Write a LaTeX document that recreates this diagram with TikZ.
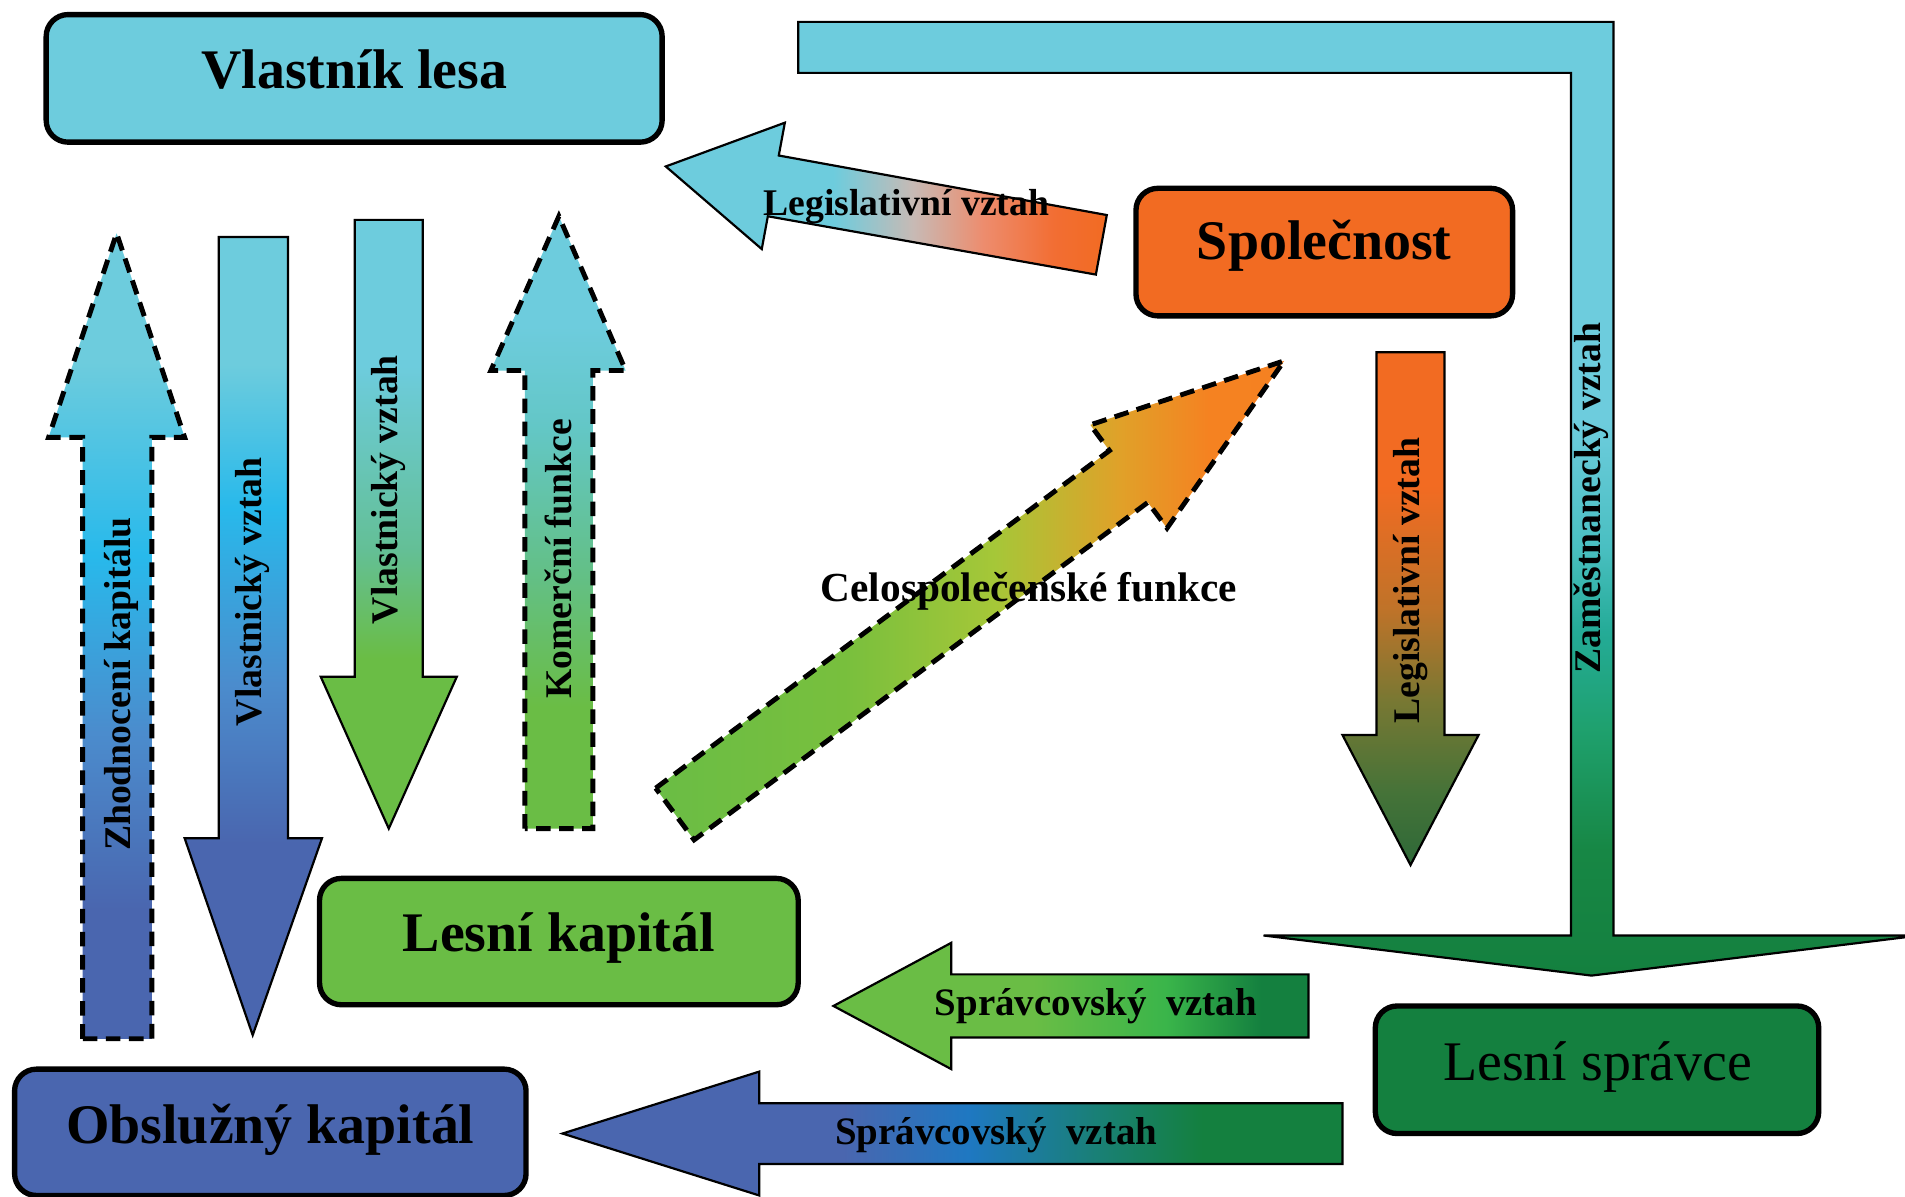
\documentclass[tikz,border=0pt]{standalone}
\usepackage{fontspec}
\setmainfont{Liberation Serif}
\usepackage{tikz}
\tikzset{every picture/.style={line width=0.75pt}}

\definecolor{cyanFill}{RGB}{109,204,221}
\definecolor{brightCyan}{RGB}{40,185,235}
\definecolor{midBlue}{RGB}{75,140,205}
\definecolor{blueFill}{RGB}{74,102,175}
\definecolor{greenFill}{RGB}{106,189,69}
\definecolor{brightGreen}{RGB}{58,181,74}
\definecolor{darkGreen}{RGB}{20,128,63}
\definecolor{orangeFill}{RGB}{242,107,34}

%shadings: inner 25bp--75bp is fitted to the shape
\pgfdeclareverticalshading{shZhodn}{100bp}{color(0bp)=(blueFill); color(33bp)=(blueFill); color(44bp)=(midBlue); color(55bp)=(brightCyan); color(67bp)=(cyanFill); color(100bp)=(cyanFill)}
\pgfdeclareverticalshading{shVlastA}{100bp}{color(0bp)=(blueFill); color(37bp)=(blueFill); color(47bp)=(midBlue); color(58bp)=(brightCyan); color(67bp)=(cyanFill); color(100bp)=(cyanFill)}
\pgfdeclareverticalshading{shVlastB}{100bp}{color(0bp)=(greenFill); color(39bp)=(greenFill); rgb(48bp)=(0.39,0.75,0.59); color(63bp)=(cyanFill); color(100bp)=(cyanFill)}
\pgfdeclareverticalshading{shKomer}{100bp}{color(0bp)=(greenFill); color(35bp)=(greenFill); rgb(45bp)=(0.39,0.75,0.51); rgb(58bp)=(0.39,0.78,0.78); color(66bp)=(cyanFill); color(100bp)=(cyanFill)}
\pgfdeclareverticalshading{shLegisV}{100bp}{rgb(0bp)=(0.18,0.41,0.22); rgb(25bp)=(0.18,0.41,0.22); rgb(32bp)=(0.27,0.45,0.22); rgb(41bp)=(0.47,0.47,0.2); rgb(50bp)=(0.75,0.45,0.16); color(62bp)=(orangeFill); color(100bp)=(orangeFill)}
\pgfdeclarehorizontalshading{shLegisH}{100bp}{color(0bp)=(cyanFill); color(44bp)=(cyanFill); rgb(53bp)=(0.78,0.73,0.71); rgb(61bp)=(0.93,0.55,0.43); rgb(69bp)=(0.95,0.43,0.2); color(75bp)=(orangeFill); color(100bp)=(orangeFill)}
\pgfdeclarehorizontalshading{shCelo}{100bp}{color(0bp)=(greenFill); color(25bp)=(greenFill); rgb(40bp)=(0.47,0.75,0.24); rgb(52bp)=(0.65,0.78,0.22); rgb(62bp)=(0.88,0.63,0.16); rgb(69bp)=(0.96,0.51,0.13); rgb(100bp)=(0.96,0.49,0.13)}
\pgfdeclarehorizontalshading{shSpravA}{100bp}{color(0bp)=(greenFill); color(46bp)=(greenFill); color(60bp)=(brightGreen); color(70bp)=(darkGreen); color(100bp)=(darkGreen)}
\pgfdeclarehorizontalshading{shSpravB}{100bp}{color(0bp)=(blueFill); color(43bp)=(blueFill); rgb(51bp)=(0.12,0.47,0.76); rgb(59bp)=(0.1,0.5,0.47); color(66bp)=(darkGreen); color(100bp)=(darkGreen)}
\pgfdeclareverticalshading{shZames}{100bp}{color(0bp)=(darkGreen); color(25bp)=(darkGreen); rgb(31.6bp)=(0.09,0.53,0.27); rgb(37.9bp)=(0.12,0.63,0.43); rgb(43bp)=(0.14,0.67,0.59); rgb(47.5bp)=(0.29,0.75,0.76); color(54bp)=(cyanFill); color(100bp)=(cyanFill)}

\tikzset{
  mybox/.style={draw=black, rounded corners=9pt, line width=2.2pt},
  boxtext/.style={anchor=base, inner sep=0pt, font=\fontsize{23}{27}\selectfont\bfseries},
  solidarr/.style={draw=black, line width=0.9pt},
  dasharr/.style={draw=black, line width=2pt, dash pattern=on 6pt off 3.5pt},
  arrtext/.style={inner sep=0pt, font=\fontsize{15.5}{18}\selectfont\bfseries},
}

\begin{document}
\begin{tikzpicture}[x=0.5pt,y=0.5pt,yscale=-1,xscale=1]
\useasboundingbox (0,0) rectangle (1568,985);

%Shape: Bent Arrow (Zamestnanecky vztah)
\shadedraw [shading=shZames, solidarr] (657,18) -- (1328,18) -- (1328,770) -- (1580,770) -- (1310,803) -- (1040,770) -- (1293,770) -- (1293,60) -- (657,60) -- cycle ;
%Shape: Up Arrow, dashed (Zhodnoceni kapitalu)
\shadedraw [shading=shZhodn, dasharr] (68,855) -- (68,360) -- (40,360) -- (96,192) -- (152,360) -- (125,360) -- (125,855) -- cycle ;
%Shape: Down Arrow (Vlastnicky vztah)
\shadedraw [shading=shVlastA, solidarr] (180,195) -- (237,195) -- (237,690) -- (265,690) -- (208,852) -- (152,690) -- (180,690) -- cycle ;
%Shape: Down Arrow (Vlastnicky vztah)
\shadedraw [shading=shVlastB, solidarr] (292,181) -- (348,181) -- (348,557) -- (376,557) -- (320,682) -- (264,557) -- (292,557) -- cycle ;
%Shape: Up Arrow, dashed (Komercni funkce)
\shadedraw [shading=shKomer, dasharr] (432,682) -- (432,305) -- (404,305) -- (460,178) -- (515,305) -- (488,305) -- (488,682) -- cycle ;
%Shape: Left Arrow, tilted (Legislativni vztah)
\shadedraw [shading=shLegisH, solidarr] (911,177) -- (641,128) -- (646,101) -- (548,137) -- (627,205) -- (632,178) -- (902,226) -- cycle ;
%Shape: Arrow, dashed (Celospolecenske funkce)
\shadedraw [shading=shCelo, dasharr] (539.7,648.7) -- (913.2,370.9) -- (897.4,349.7) -- (1057,297) -- (960.6,434.7) -- (944.8,413.5) -- (571.3,691.3) -- cycle ;
%Shape: Down Arrow (Legislativni vztah)
\shadedraw [shading=shLegisV, solidarr] (1133,290) -- (1189,290) -- (1189,605) -- (1217,605) -- (1161,712) -- (1105,605) -- (1133,605) -- cycle ;
%Shape: Left Arrow (Spravcovsky vztah)
\shadedraw [shading=shSpravA, solidarr] (1077,802) -- (783,802) -- (783,776) -- (686,828) -- (783,880) -- (783,854) -- (1077,854) -- cycle ;
%Shape: Left Arrow (Spravcovsky vztah)
\shadedraw [shading=shSpravB, solidarr] (1105,908) -- (625,908) -- (625,882) -- (463,933) -- (625,984) -- (625,958) -- (1105,958) -- cycle ;

%Shape: Rounded Rect
\node [mybox, fill=cyanFill, minimum width=253.5pt, minimum height=52.5pt] (vlastnik) at (291.5,64.5) {};
\node [mybox, fill=orangeFill, minimum width=155pt, minimum height=52.5pt] (spolecnost) at (1090,207.5) {};
\node [mybox, fill=greenFill, minimum width=197pt, minimum height=52pt] (lesKap) at (460,775) {};
\node [mybox, fill=blueFill, minimum width=210.5pt, minimum height=52pt] (obsKap) at (222.5,932) {};
\node [mybox, fill=darkGreen, minimum width=182.5pt, minimum height=52.5pt] (spravce) at (1314.5,880.5) {};

% Text Node
\node [boxtext] (vlastnikT) at (291.5,73) {Vlastník lesa};
\node [boxtext] (spolecnostT) at (1090,214) {Společnost};
\node [boxtext] (lesKapT) at (460,783) {Lesní kapitál};
\node [boxtext] (obsKapT) at (222.5,941) {Obslužný kapitál};
\node [boxtext, font=\fontsize{23}{27}\selectfont] (spravceT) at (1315,889) {Lesní správce};

% Text Node
\node [arrtext, rotate=90] (zhodnT) at (100,563) {Zhodnocení kapitálu};
\node [arrtext, rotate=90] (vlastAT) at (208,487) {Vlastnický vztah};
\node [arrtext, rotate=90] (vlastBT) at (320,403) {Vlastnický vztah};
\node [arrtext, rotate=90] (komerT) at (460,460) {Komerční funkce};
\node [arrtext, rotate=90] (legisVT) at (1161,478) {Legislativní vztah};
\node [arrtext, rotate=90] (zamesT) at (1310,410) {Zaměstnanecký vztah};
\node [arrtext] (legisHT) at (746,170) {Legislativní vztah};
\node [arrtext, font=\fontsize{17}{20}\selectfont\bfseries] (celoT) at (847,487) {Celospolečenské funkce};
\node [arrtext, font=\fontsize{16}{19}\selectfont\bfseries] (spravAT) at (902,828) {Správcovský~~vztah};
\node [arrtext, font=\fontsize{16}{19}\selectfont\bfseries] (spravBT) at (820,934) {Správcovský~~vztah};

\end{tikzpicture}
\end{document}
